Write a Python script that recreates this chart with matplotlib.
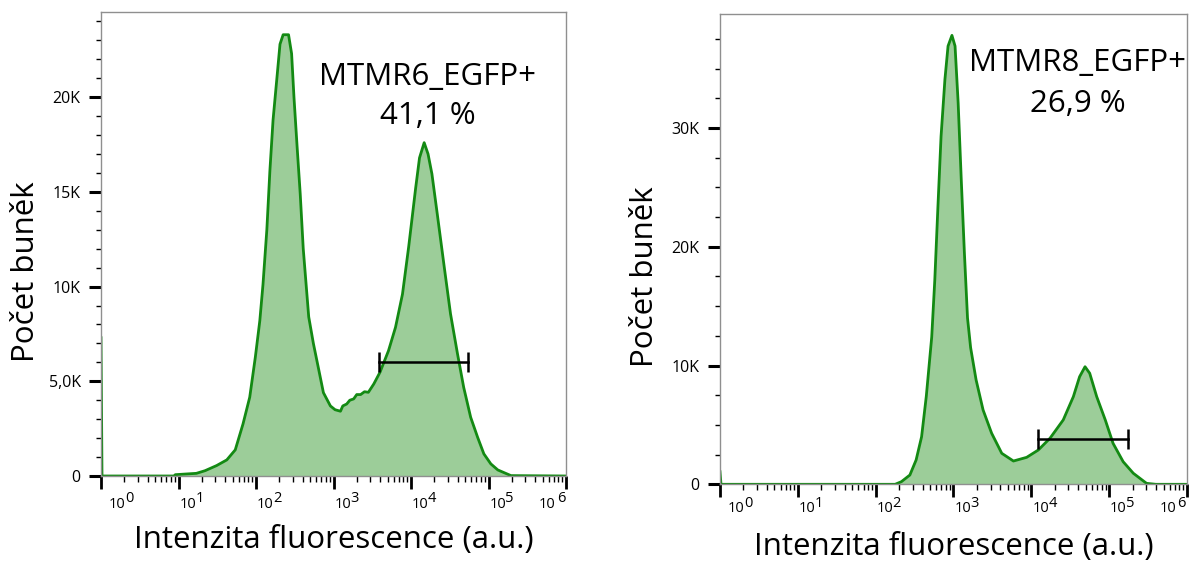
import matplotlib
matplotlib.use("Agg")
import matplotlib.pyplot as plt
from matplotlib.ticker import FixedLocator, NullFormatter

plt.rcParams['font.family'] = ['Open Sans', 'DejaVu Sans']

# MTMR6 histogram (intensity a.u., cell count)
mtmr6_x = [1, 1.03, 8.9, 9.1, 17, 22, 31, 42, 54, 68, 83, 98, 112, 123, 138, 151,
           166, 186, 204, 224, 263, 288, 309, 339, 372, 407, 479, 550, 646, 741,
           912, 1047, 1230, 1318, 1479, 1622, 1820, 1995, 2239, 2512, 2818, 3311,
           3981, 5129, 6310, 7762, 9333, 11480, 12880, 14790, 16600, 18620, 21880,
           26920, 32360, 39810, 47860, 58880, 72440, 87100, 107150, 131830, 195000,
           1000000]
mtmr6_y = [7300, 0, 0, 70, 140, 280, 550, 850, 1380, 2750, 4160, 6270, 8200, 10100,
           13000, 16100, 18800, 21000, 22800, 23300, 23300, 22300, 20000, 17400,
           14900, 12000, 8400, 7000, 5600, 4400, 3700, 3500, 3420, 3700, 3800, 4000,
           4070, 4300, 4300, 4450, 4420, 4860, 5480, 6620, 7850, 9600, 12100, 15200,
           16800, 17600, 17000, 15950, 13800, 11000, 8560, 6450, 4680, 3100, 2040,
           1170, 640, 320, 20, 0]

# MTMR8 histogram
mtmr8_x = [1, 1.03, 178, 214, 275, 331, 389, 447, 525, 575, 631, 692, 776, 851, 955,
           1047, 1148, 1259, 1380, 1514, 1660, 1950, 2399, 3090, 4169, 5888, 8710,
           12300, 17380, 25700, 34670, 41690, 48980, 56230, 69180, 89130, 112200,
           151400, 204200, 302000, 398100, 1000000]
mtmr8_y = [1060, 0, 0, 220, 780, 2050, 4000, 7400, 12400, 17200, 23400, 29300, 34100,
           36900, 37800, 36900, 32100, 25600, 19500, 14000, 11500, 8800, 6260, 4300,
           2610, 1960, 2270, 2890, 3880, 5420, 7380, 9060, 9900, 9350, 7380, 5420,
           3450, 1900, 930, 80, 0, 0]

# gates
mtmr6_gate = [3900, 55100]
mtmr6_gate_y = 6000
mtmr8_gate = [12250, 176200]
mtmr8_gate_y = 3800

decades = [1, 10, 100, 1000, 10000, 100000, 1000000]
exponents = ['0', '1', '2', '3', '4', '5', '6']

line_c = '#138a13'
fill_c = '#9ccd99'
frame_c = '#8f8f8f'

fig = plt.figure(figsize=(11.89, 5.63), dpi=100)
ax1 = fig.add_axes([101 / 1189, 1 - 476 / 563, 465 / 1189, 464 / 563])
ax2 = fig.add_axes([720 / 1189, 1 - 484.3 / 563, 467 / 1189, 470.3 / 563])


def draw_panel(ax, x, y, ymax, yticks, yticklabels, yminor, gate, gate_y,
               name, pct, text_x, text_y1, text_y2, lab_off):
    ax.fill_between(x, y, 0, color=fill_c, lw=0)
    ax.plot(x, y, color=line_c, lw=2.0)
    ax.set_xscale('log')
    ax.set_xlim(1, 1e6)
    ax.set_ylim(0, ymax)

    # gate bar with end caps
    ax.plot(gate, [gate_y, gate_y], color='black', lw=1.8)
    ax.plot(gate, [gate_y, gate_y], color='black', lw=0,
            marker='|', markersize=14, markeredgewidth=1.8)

    for s in ax.spines.values():
        s.set_color(frame_c)
        s.set_linewidth(1.0)

    ax.set_yticks(yticks)
    ax.set_yticklabels(yticklabels)
    ax.yaxis.set_minor_locator(FixedLocator(yminor))
    ax.tick_params(axis='y', which='major', length=8.6, width=2.2, pad=6,
                   labelsize=11.5, color='black')
    ax.tick_params(axis='y', which='minor', length=3.6, width=1.0, color='black')

    ax.set_xticks(decades)
    ax.xaxis.set_major_formatter(NullFormatter())
    ax.xaxis.set_minor_formatter(NullFormatter())
    ax.tick_params(axis='x', which='major', length=9.5, width=2.0, color='black')
    ax.tick_params(axis='x', which='minor', length=4.5, width=1.0, color='black')

    # tick labels 10^n, exponent same size as base
    for i, (d, e) in enumerate(zip(decades, exponents)):
        if i == len(decades) - 1:
            ax.annotate(e, xy=(d, 0), xycoords=('data', 'axes fraction'),
                        xytext=(-1, -lab_off + 5), textcoords='offset pixels',
                        ha='right', va='center', fontsize=10.5)
            ax.annotate('10', xy=(d, 0), xycoords=('data', 'axes fraction'),
                        xytext=(-11, -lab_off), textcoords='offset pixels',
                        ha='right', va='center', fontsize=10.5)
        else:
            ox = 8 if i == 0 else 1
            ax.annotate('10', xy=(d, 0), xycoords=('data', 'axes fraction'),
                        xytext=(ox, -lab_off), textcoords='offset pixels',
                        ha='left', va='center', fontsize=10.5)
            ax.annotate(e, xy=(d, 0), xycoords=('data', 'axes fraction'),
                        xytext=(ox + 16, -lab_off + 5), textcoords='offset pixels',
                        ha='left', va='center', fontsize=10.5)

    ax.set_xlabel('Intenzita fluorescence (a.u.)', fontsize=22.5)
    ax.set_ylabel('Počet buněk', fontsize=22.5)
    ax.xaxis.label.set_va('center')
    ax.yaxis.label.set_va('center')

    ax.text(text_x, text_y1, name, transform=ax.transAxes, ha='center',
            va='center', fontsize=22.5)
    ax.text(text_x, text_y2, pct, transform=ax.transAxes, ha='center',
            va='center', fontsize=22.5)


draw_panel(ax1, mtmr6_x, mtmr6_y, 24500, [0, 5000, 10000, 15000, 20000],
           ['0', '5,0K', '10K', '15K', '20K'],
           [v * 1000 for v in [1, 2, 3, 4, 6, 7, 8, 9, 11, 12, 13, 14, 16, 17, 18, 19,
                               21, 22, 23, 24]],
           mtmr6_gate, mtmr6_gate_y, 'MTMR6_EGFP+', '41,1 %',
           (428 - 101) / 465, (476 - 77) / 464, (476 - 116) / 464, 28)
ax1.xaxis.set_label_coords(0.5, (476 - 540) / 464)
ax1.yaxis.set_label_coords((26 - 101) / 465, (476 - 272) / 464)

draw_panel(ax2, mtmr8_x, mtmr8_y, 39600, [0, 10000, 20000, 30000],
           ['0', '10K', '20K', '30K'],
           [2500, 5000, 7500, 12500, 15000, 17500, 22500, 25000, 27500, 32500,
            35000, 37500],
           mtmr8_gate, mtmr8_gate_y, 'MTMR8_EGFP+', '26,9 %',
           (1078 - 720) / 467, (484.3 - 63) / 470.3, (484.3 - 104) / 470.3, 24)
ax2.xaxis.set_label_coords(0.5, (484.3 - 547) / 470.3)
ax2.yaxis.set_label_coords((645 - 720) / 467, (484.3 - 277) / 470.3)

fig.savefig('out.png', dpi=100)
